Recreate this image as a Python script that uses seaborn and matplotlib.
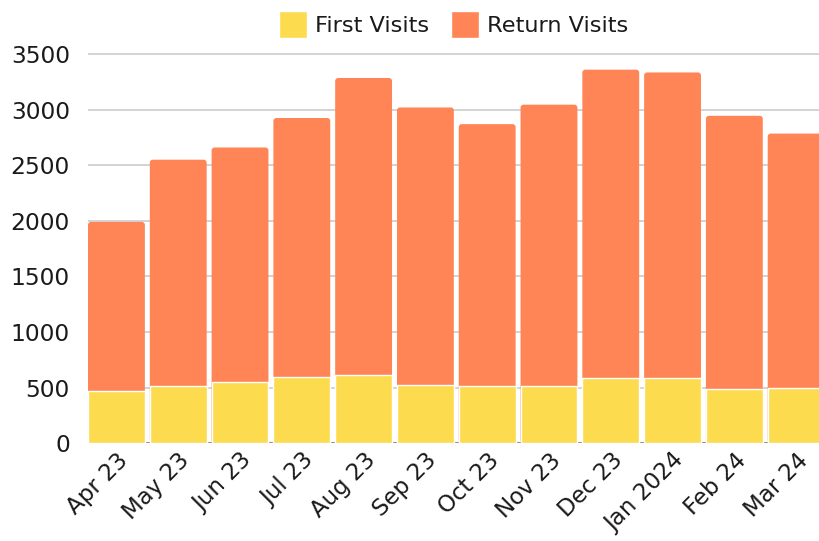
import matplotlib
matplotlib.use("Agg")
import matplotlib.pyplot as plt
from matplotlib.patches import FancyBboxPatch, Patch
import seaborn as sns
import pandas as pd

# data
months = ["Apr 23", "May 23", "Jun 23", "Jul 23", "Aug 23", "Sep 23",
          "Oct 23", "Nov 23", "Dec 23", "Jan 2024", "Feb 24", "Mar 24"]
first_visits = [470, 515, 550, 595, 615, 525, 515, 515, 590, 590, 485, 500]
total_visits = [1990, 2550, 2660, 2925, 3285, 3020, 2870, 3045, 3360, 3335, 2945, 2785]
return_visits = [t - f for t, f in zip(total_visits, first_visits)]

yellow = "#FCDB4E"
orange = "#FF8456"

sns.set_theme(style="white")
plt.rcParams["font.family"] = ["DejaVu Sans"]

df = pd.DataFrame({"month": months, "first": first_visits,
                   "ret": return_visits, "total": total_visits})

fig = plt.figure(figsize=(8.19, 5.41), dpi=100)
ax = fig.add_axes([0.1074, 0.181, 0.8926, 0.7395])

# stacked: total in orange, first visits over it in yellow
sns.barplot(data=df, x="month", y="total", color=orange, width=0.92,
            saturation=1, ax=ax, zorder=2)
n_orange = len(ax.patches)
sns.barplot(data=df, x="month", y="first", color=yellow, width=0.92,
            saturation=1, ax=ax, zorder=3)

ax.set_xlim(-0.461, 11.37)
ax.set_ylim(0, 3600)

# round the top corners of the orange bars
px_x = 1 / 61.8   # x units per pixel
px_y = 9.0        # y units per pixel
for p in list(ax.patches[:n_orange]):
    x, y = p.get_x(), p.get_y()
    w, h = p.get_width(), p.get_height()
    r = 3 * px_x
    fb = FancyBboxPatch((x + r, y + r * px_y / px_x), w - 2 * r, h - 2 * r * px_y / px_x,
                        boxstyle=f"round,pad={r},rounding_size={r}",
                        mutation_aspect=px_y / px_x,
                        facecolor=orange, edgecolor="none", zorder=2)
    p.remove()
    ax.add_patch(fb)

ax.set_yticks(range(0, 3501, 500))
ax.yaxis.grid(True, color="#cccccc", linewidth=1.2, zorder=0)
ax.set_axisbelow(True)
ax.axhline(0, color="#888888", linewidth=2, zorder=1)
for s in ax.spines.values():
    s.set_visible(False)

ax.set_xlabel("")
ax.set_ylabel("")
ax.tick_params(axis="y", labelsize=16.8, colors="#1a1a1a", length=0, pad=13)
ax.tick_params(axis="x", labelsize=16.5, colors="#1a1a1a", length=0, pad=4)
plt.setp(ax.get_xticklabels(), rotation=45, ha="right", rotation_mode="anchor")

handles = [Patch(facecolor=yellow, label="First Visits"),
           Patch(facecolor=orange, label="Return Visits")]
fig.legend(handles=handles, loc="center", bbox_to_anchor=(0.5537, 0.9547), ncol=2,
           frameon=False, fontsize=16.2, handlelength=1.25, handleheight=1.45,
           handletextpad=0.35, columnspacing=1.0, labelcolor="#1a1a1a")

fig.savefig("out.png", dpi=100)
